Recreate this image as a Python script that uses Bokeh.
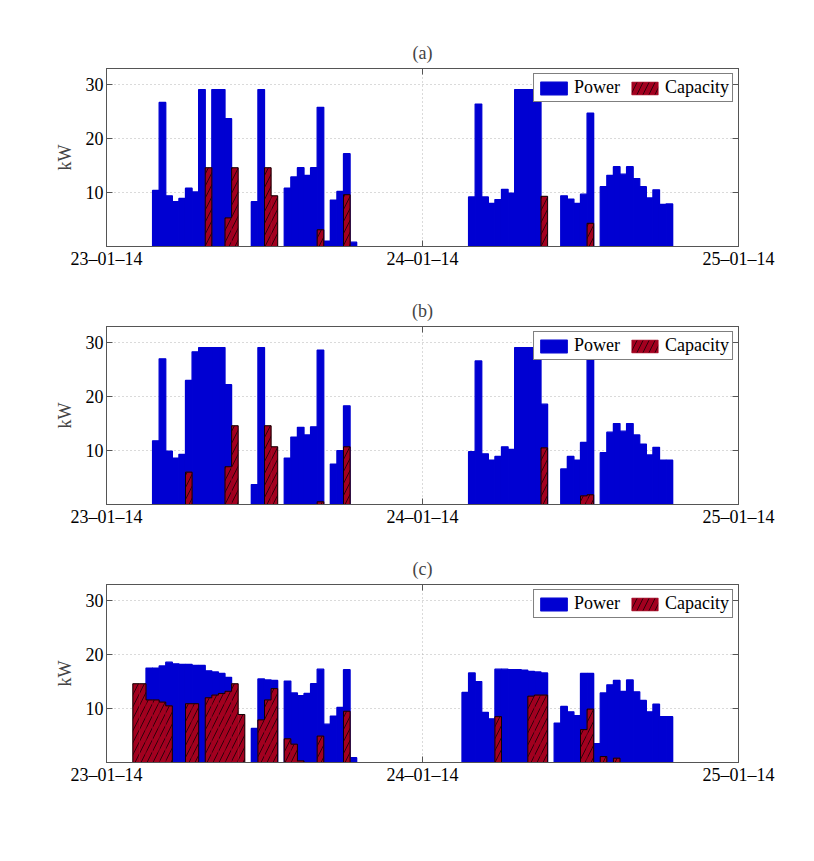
from bokeh.plotting import figure
from bokeh.models import (ColumnDataSource, FixedTicker, LinearAxis, Range1d, Legend, LegendItem)
from bokeh.layouts import column
from bokeh.embed import file_html
from bokeh.resources import INLINE

# ---- data: half-hourly values over 48 hours (23-01-14 00:00 .. 25-01-14 00:00) ----
tick_hours = [0, 24, 48]
tick_labels = ["23\u201301\u201314", "24\u201301\u201314", "25\u201301\u201314"]
slot_hours = 0.5
panel_titles = ["(a)", "(b)", "(c)"]

power_a = [
    0, 0, 0, 0, 0, 0, 0, 10.4, 26.7, 9.4, 8.3, 8.9,
    10.8, 10.1, 29.1, 0, 29.1, 29.1, 23.7, 0, 0, 0, 8.3, 29.1,
    0, 0, 0, 10.8, 12.9, 14.6, 13.2, 14.6, 25.8, 1.0, 8.6, 10.2,
    17.2, 0.8, 0, 0, 0, 0, 0, 0, 0, 0, 0, 0,
    0, 0, 0, 0, 0, 0, 0, 9.2, 26.4, 9.2, 8.0, 8.7,
    10.6, 9.9, 29.1, 29.1, 29.1, 29.1, 0, 0, 0, 9.4, 8.8, 8.0,
    9.7, 24.7, 0, 11.1, 13.2, 14.8, 13.4, 14.8, 12.6, 11.1, 9.0, 10.5,
    7.8, 7.9, 0, 0, 0, 0, 0, 0, 0, 0, 0, 0,
]
capacity_a = [
    0, 0, 0, 0, 0, 0, 0, 0, 0, 0, 0, 0,
    0, 0, 0, 14.6, 0, 0, 5.3, 14.6, 0, 0, 0, 0,
    14.6, 9.4, 0, 0, 0, 0, 0, 0, 3.1, 0, 0, 0,
    9.6, 0, 0, 0, 0, 0, 0, 0, 0, 0, 0, 0,
    0, 0, 0, 0, 0, 0, 0, 0, 0, 0, 0, 0,
    0, 0, 0, 0, 0, 0, 9.3, 0, 0, 0, 0, 0,
    0, 4.3, 0, 0, 0, 0, 0, 0, 0, 0, 0, 0,
    0, 0, 0, 0, 0, 0, 0, 0, 0, 0, 0, 0,
]
power_b = [
    0, 0, 0, 0, 0, 0, 0, 11.8, 27.0, 9.9, 8.6, 9.3,
    23.0, 28.3, 29.1, 29.1, 29.1, 29.1, 22.2, 0, 0, 0, 3.7, 29.1,
    0, 0, 0, 8.6, 12.5, 14.3, 12.9, 14.4, 28.6, 0, 7.5, 10.0,
    18.3, 0, 0, 0, 0, 0, 0, 0, 0, 0, 0, 0,
    0, 0, 0, 0, 0, 0, 0, 9.8, 26.6, 9.4, 8.2, 8.9,
    10.7, 10.2, 29.1, 29.1, 29.1, 29.1, 18.6, 0, 0, 6.6, 8.9, 8.2,
    11.5, 27.3, 0, 9.6, 13.4, 15.0, 13.6, 15.0, 12.9, 11.2, 9.2, 10.6,
    8.2, 8.2, 0, 0, 0, 0, 0, 0, 0, 0, 0, 0,
]
capacity_b = [
    0, 0, 0, 0, 0, 0, 0, 0, 0, 0, 0, 0,
    6.0, 0, 0, 0, 0, 0, 7.0, 14.6, 0, 0, 0, 0,
    14.6, 10.7, 0, 0, 0, 0, 0, 0, 0.5, 0, 0, 0,
    10.7, 0, 0, 0, 0, 0, 0, 0, 0, 0, 0, 0,
    0, 0, 0, 0, 0, 0, 0, 0, 0, 0, 0, 0,
    0, 0, 0, 0, 0, 0, 10.5, 0, 0, 0, 0, 0,
    1.6, 1.8, 0, 0, 0, 0, 0, 0, 0, 0, 0, 0,
    0, 0, 0, 0, 0, 0, 0, 0, 0, 0, 0, 0,
]
power_c = [
    0, 0, 0, 0, 0, 0, 17.5, 17.5, 17.9, 18.6, 18.3, 18.2,
    18.2, 18.0, 18.0, 17.0, 16.8, 16.5, 15.8, 0, 0, 0, 6.3, 15.5,
    15.3, 15.2, 0, 15.1, 12.9, 12.4, 12.8, 14.6, 17.3, 7.1, 8.6, 10.2,
    17.2, 0.9, 0, 0, 0, 0, 0, 0, 0, 0, 0, 0,
    0, 0, 0, 0, 0, 0, 13.0, 16.6, 15.0, 9.3, 8.1, 17.3,
    17.3, 17.2, 17.2, 17.1, 16.9, 16.8, 16.6, 0, 7.3, 10.4, 9.4, 8.7,
    16.5, 16.5, 3.5, 12.9, 14.4, 15.2, 13.2, 15.3, 13.1, 11.5, 9.4, 10.8,
    8.5, 8.5, 0, 0, 0, 0, 0, 0, 0, 0, 0, 0,
]
capacity_c = [
    0, 0, 0, 0, 14.6, 14.6, 11.6, 11.6, 11.2, 10.5, 0, 0,
    10.9, 10.9, 0, 12.0, 12.5, 12.8, 13.2, 14.6, 8.9, 0, 0, 7.9,
    11.6, 13.7, 0, 4.4, 3.4, 0.3, 0, 0, 4.9, 0, 0, 0,
    9.5, 0, 0, 0, 0, 0, 0, 0, 0, 0, 0, 0,
    0, 0, 0, 0, 0, 0, 0, 0, 0, 0, 0, 8.5,
    0, 0, 0, 0, 12.3, 12.5, 12.5, 0, 0, 0, 0, 0,
    6.1, 9.9, 0, 1.1, 0, 0.8, 0, 0, 0, 0, 0, 0,
    0, 0, 0, 0, 0, 0, 0, 0, 0, 0, 0, 0,
]

SERIF = "'Liberation Serif', 'Times New Roman', serif"
BLUE = "#0000d2"
RED = "#a3001f"


def bars_source(values):
    xs, tops = [], []
    for i, v in enumerate(values):
        if v > 0:
            xs.append(i * slot_hours + slot_hours / 2)
            tops.append(v)
    return ColumnDataSource(dict(x=xs, top=tops))


def outline_source(values):
    """Outer contour of each contiguous run of non-zero bars."""
    all_x, all_y = [], []
    xs, ys = [], []
    for i, v in enumerate(list(values) + [0]):
        x0 = i * slot_hours
        if v > 0:
            if not xs:
                xs += [x0, x0]
                ys += [0, v]
            else:
                xs += [x0, x0]
                ys += [ys[-1], v]
            xs.append(x0 + slot_hours)
            ys.append(v)
        elif xs:
            xs += [x0]
            ys += [0]
            all_x.append(xs)
            all_y.append(ys)
            xs, ys = [], []
    return ColumnDataSource(dict(xs=all_x, ys=all_y))


def style_axis(ax, show_labels=True):
    ax.axis_line_color = "#555555"
    ax.major_tick_line_color = "#555555"
    ax.major_tick_in = 6
    ax.major_tick_out = 0
    ax.minor_tick_line_color = None
    ax.major_label_text_font = SERIF
    ax.major_label_text_font_size = "18px"
    ax.major_label_text_color = "black" if show_labels else None
    ax.major_label_standoff = 3


def make_panel(title, power, capacity, top_border):
    p = figure(frame_width=632, frame_height=178,
               x_range=Range1d(0, 48), y_range=Range1d(0, 33),
               output_backend="svg", toolbar_location=None,
               min_border_left=106, min_border_right=52,
               min_border_top=top_border, min_border_bottom=40)
    p.title.text = title
    p.title.align = "center"
    p.title.text_font = SERIF
    p.title.text_font_size = "18px"
    p.title.text_font_style = "normal"
    p.title.standoff = 11
    p.outline_line_color = "#555555"

    r_pow = p.vbar(x="x", top="top", width=slot_hours, source=bars_source(power),
                   fill_color=BLUE, line_color=BLUE, line_width=1.3)
    r_cap = p.vbar(x="x", top="top", width=slot_hours, source=bars_source(capacity),
                   fill_color=RED, line_color=RED, line_width=0.6,
                   hatch_pattern="/", hatch_color="black", hatch_scale=12, hatch_weight=0.7)
    p.multi_line(xs="xs", ys="ys", source=outline_source(capacity),
                 line_color="black", line_width=0.9)

    ticks_x = FixedTicker(ticks=tick_hours)
    ticks_y = FixedTicker(ticks=[10, 20, 30])
    p.xaxis.ticker = ticks_x
    p.xaxis.major_label_overrides = {h: lab for h, lab in zip(tick_hours, tick_labels)}
    p.yaxis.ticker = ticks_y
    style_axis(p.xaxis[0])
    style_axis(p.yaxis[0])
    p.xaxis.major_label_standoff = 2
    p.yaxis.axis_label = "kW"
    p.yaxis.axis_label_text_font = SERIF
    p.yaxis.axis_label_text_font_size = "18px"
    p.yaxis.axis_label_text_font_style = "normal"
    p.yaxis.axis_label_standoff = 8

    right = LinearAxis(ticker=FixedTicker(ticks=[10, 20, 30]))
    style_axis(right, show_labels=False)
    p.add_layout(right, "right")
    top = LinearAxis(ticker=FixedTicker(ticks=tick_hours))
    style_axis(top, show_labels=False)
    top.major_label_text_font_size = "1px"
    top.major_label_standoff = 0
    p.add_layout(top, "above")

    p.xgrid.ticker = ticks_x
    p.ygrid.ticker = ticks_y
    for g in (p.xgrid[0], p.ygrid[0]):
        g.grid_line_color = "#b4b4b4"
        g.grid_line_dash = "1 3"
        g.grid_line_width = 1

    legend = Legend(items=[LegendItem(label="Power", renderers=[r_pow]),
                           LegendItem(label="Capacity", renderers=[r_cap])],
                    location="top_right", orientation="horizontal")
    legend.label_text_font = SERIF
    legend.label_text_font_size = "18px"
    legend.label_text_color = "black"
    legend.glyph_width = 33
    legend.glyph_height = 16
    legend.label_height = 16
    legend.label_standoff = 4
    legend.spacing = 8
    legend.padding = 3
    legend.margin = 5
    legend.border_line_color = "black"
    legend.border_line_width = 1
    legend.background_fill_alpha = 1
    p.add_layout(legend, "center")
    return p


panels = [
    make_panel(panel_titles[0], power_a, capacity_a, 68),
    make_panel(panel_titles[1], power_b, capacity_b, 40),
    make_panel(panel_titles[2], power_c, capacity_c, 40),
]
layout = column(*panels, spacing=0)
open("out.html", "w").write(file_html(layout, INLINE))
